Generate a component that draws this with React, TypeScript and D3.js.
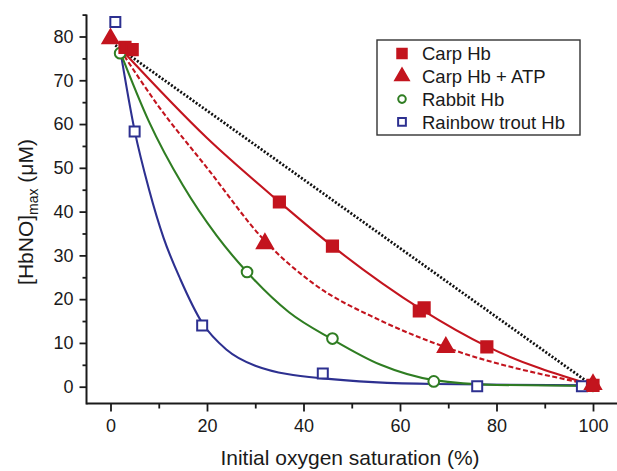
import React, { useRef, useEffect } from 'react'
import * as d3 from 'd3'

// measured points [saturation %, HbNO µM]
const carpHb = [[3, 77.5], [4.5, 77], [35, 42.2], [46, 32.1], [64, 17.3], [65, 18], [78, 9.1], [100, 0.3]]
const carpAtp = [[0, 79.5], [32, 32.7], [69.5, 9], [100, 0.5]]
const rabbitHb = [[2, 76.2], [28.3, 26.2], [46, 11], [67, 1.2], [100, 0.2]]
const troutHb = [[1, 83.3], [5, 58.3], [19, 14], [44, 3], [76, 0.1], [97.7, 0.1]]

// fitted curves
const carpFit = [[2, 77.3], [20, 56.8], [35, 42.2], [46, 32.1], [64.5, 17.6], [78, 9.2], [100, 0.3]]
const atpFit = [[2, 77], [10, 64], [20, 50], [32, 33.3], [42, 23.6], [55.8, 15.2], [69.5, 9], [100, 0.4]]
const rabbitFit = [[2, 76.5], [8, 60.5], [15, 46], [22, 34.5], [28.2, 26.3], [37, 17], [46, 10.8], [56, 5], [67, 1.5], [80, 0.4], [100, 0.2]]
const troutFit = [[2, 77], [5, 58.5], [8, 45], [11, 34], [14.5, 24.5], [19, 14.6], [24, 8.5], [30, 4.8], [44, 1.9], [67, 0.6], [100, 0.3]]
const diagonal = [[1, 78], [99.5, 0.6]]

const xMajor = [0, 20, 40, 60, 80, 100]
const xMinor = [10, 30, 50, 70, 90]
const yMajor = [0, 10, 20, 30, 40, 50, 60, 70, 80]
const yMinor = [5, 15, 25, 35, 45, 55, 65, 75, 85]

const legendLabels = ['Carp Hb', 'Carp Hb + ATP', 'Rabbit Hb', 'Rainbow trout Hb']

const RED = '#c3141e'
const GREEN = '#2f7d22'
const BLUE = '#2d3090'
const FONT = '"Liberation Sans", Arial, Helvetica, sans-serif'

function App() {
  const svgRef = useRef(null)
  const width = 617
  const height = 471

  useEffect(() => {
    const svg = d3.select(svgRef.current)
    svg.selectAll('*').remove()

    const x = d3.scaleLinear().domain([0, 100]).range([110.5, 593])
    const y = d3.scaleLinear().domain([0, 80]).range([386.7, 36.5])
    const axisY = 403.5
    const axisX = 86.5

    // axes
    const gx = svg.append('g').attr('transform', `translate(0,${axisY})`)
    gx.call(d3.axisBottom(x).tickValues(xMajor).tickSize(8).tickPadding(8))
    gx.call((g) => g.select('.domain').remove())
    const gxm = svg.append('g').attr('transform', `translate(0,${axisY})`)
    gxm.call(d3.axisBottom(x).tickValues(xMinor).tickSize(5).tickFormat(() => ''))
    gxm.call((g) => g.select('.domain').remove())

    const gy = svg.append('g').attr('transform', `translate(${axisX},0)`)
    gy.call(d3.axisLeft(y).tickValues(yMajor).tickSize(7).tickPadding(6))
    gy.call((g) => g.select('.domain').remove())
    const gym = svg.append('g').attr('transform', `translate(${axisX},0)`)
    gym.call(d3.axisLeft(y).tickValues(yMinor).tickSize(4).tickFormat(() => ''))
    gym.call((g) => g.select('.domain').remove())

    svg.selectAll('.tick line').attr('stroke', '#1a1a1a').attr('stroke-width', 1.8)
    svg
      .selectAll('.tick text')
      .attr('font-family', FONT)
      .attr('font-size', 18)
      .attr('fill', '#1a1a1a')

    svg
      .append('line')
      .attr('x1', axisX)
      .attr('x2', width)
      .attr('y1', axisY)
      .attr('y2', axisY)
      .attr('stroke', '#1a1a1a')
      .attr('stroke-width', 2)
    svg
      .append('line')
      .attr('x1', axisX)
      .attr('x2', axisX)
      .attr('y1', y(85))
      .attr('y2', axisY + 1)
      .attr('stroke', '#1a1a1a')
      .attr('stroke-width', 2)

    // titles
    svg
      .append('text')
      .attr('x', 350)
      .attr('y', 465)
      .attr('text-anchor', 'middle')
      .attr('font-family', FONT)
      .attr('font-size', 21)
      .attr('fill', '#1a1a1a')
      .text('Initial oxygen saturation (%)')

    const yt = svg
      .append('text')
      .attr('transform', 'translate(33,212) rotate(-90)')
      .attr('text-anchor', 'middle')
      .attr('font-family', FONT)
      .attr('font-size', 21)
      .attr('fill', '#1a1a1a')
    yt.append('tspan').text('[HbNO]')
    yt.append('tspan').attr('font-size', 14).attr('dy', 5).text('max')
    yt.append('tspan').attr('dy', -5).text(' (\u03bcM)')

    const curve = d3
      .line()
      .x((d) => x(d[0]))
      .y((d) => y(d[1]))
      .curve(d3.curveMonotoneX)

    const straight = d3
      .line()
      .x((d) => x(d[0]))
      .y((d) => y(d[1]))

    svg
      .append('path')
      .attr('d', straight(diagonal))
      .attr('fill', 'none')
      .attr('stroke', '#111')
      .attr('stroke-width', 2.8)
      .attr('stroke-dasharray', '2,1.8')

    const fits = [
      { data: troutFit, color: BLUE, dash: null },
      { data: rabbitFit, color: GREEN, dash: null },
      { data: atpFit, color: RED, dash: '5,2.5' },
      { data: carpFit, color: RED, dash: null },
    ]
    fits.forEach((f) => {
      svg
        .append('path')
        .attr('d', curve(f.data))
        .attr('fill', 'none')
        .attr('stroke', f.color)
        .attr('stroke-width', 2.1)
        .attr('stroke-dasharray', f.dash)
    })

    const square = d3.symbol().type(d3.symbolSquare)
    const triangle = d3.symbol().type(d3.symbolTriangle)
    const circle = d3.symbol().type(d3.symbolCircle)

    const series = [
      { data: rabbitHb, path: circle.size(90)(), fill: 'white', stroke: GREEN },
      { data: troutHb, path: square.size(100)(), fill: 'white', stroke: BLUE },
      { data: carpHb, path: square.size(125)(), fill: RED, stroke: RED },
      { data: carpAtp, path: triangle.size(110)(), fill: RED, stroke: RED },
    ]
    series.forEach((s) => {
      svg
        .append('g')
        .selectAll('path')
        .data(s.data)
        .join('path')
        .attr('transform', (d) => `translate(${x(d[0])},${y(d[1])})`)
        .attr('d', s.path)
        .attr('fill', s.fill)
        .attr('stroke', s.stroke)
        .attr('stroke-width', 2)
    })

    // legend
    const lg = svg.append('g').attr('transform', 'translate(377,40)')
    lg.append('rect')
      .attr('width', 203)
      .attr('height', 95)
      .attr('fill', 'white')
      .attr('stroke', '#333')
      .attr('stroke-width', 1.4)
    const legendSymbols = [
      { path: square.size(90)(), fill: RED, stroke: RED },
      { path: triangle.size(80)(), fill: RED, stroke: RED },
      { path: circle.size(45)(), fill: 'white', stroke: GREEN },
      { path: square.size(60)(), fill: 'white', stroke: BLUE },
    ]
    const rows = lg
      .selectAll('g.row')
      .data(legendLabels)
      .join('g')
      .attr('class', 'row')
      .attr('transform', (d, i) => `translate(0,${13.5 + i * 22.8})`)
    rows
      .append('path')
      .attr('transform', 'translate(25,0)')
      .attr('d', (d, i) => legendSymbols[i].path)
      .attr('fill', (d, i) => legendSymbols[i].fill)
      .attr('stroke', (d, i) => legendSymbols[i].stroke)
      .attr('stroke-width', 2)
    rows
      .append('text')
      .attr('x', 45)
      .attr('dy', '0.36em')
      .attr('font-family', FONT)
      .attr('font-size', 18.5)
      .attr('fill', '#1a1a1a')
      .text((d) => d)
  }, [])

  return (
    <svg
      ref={svgRef}
      width={width}
      height={height}
      style={{ position: 'absolute', left: 0, top: 0, background: 'white' }}
    />
  )
}

export default App
